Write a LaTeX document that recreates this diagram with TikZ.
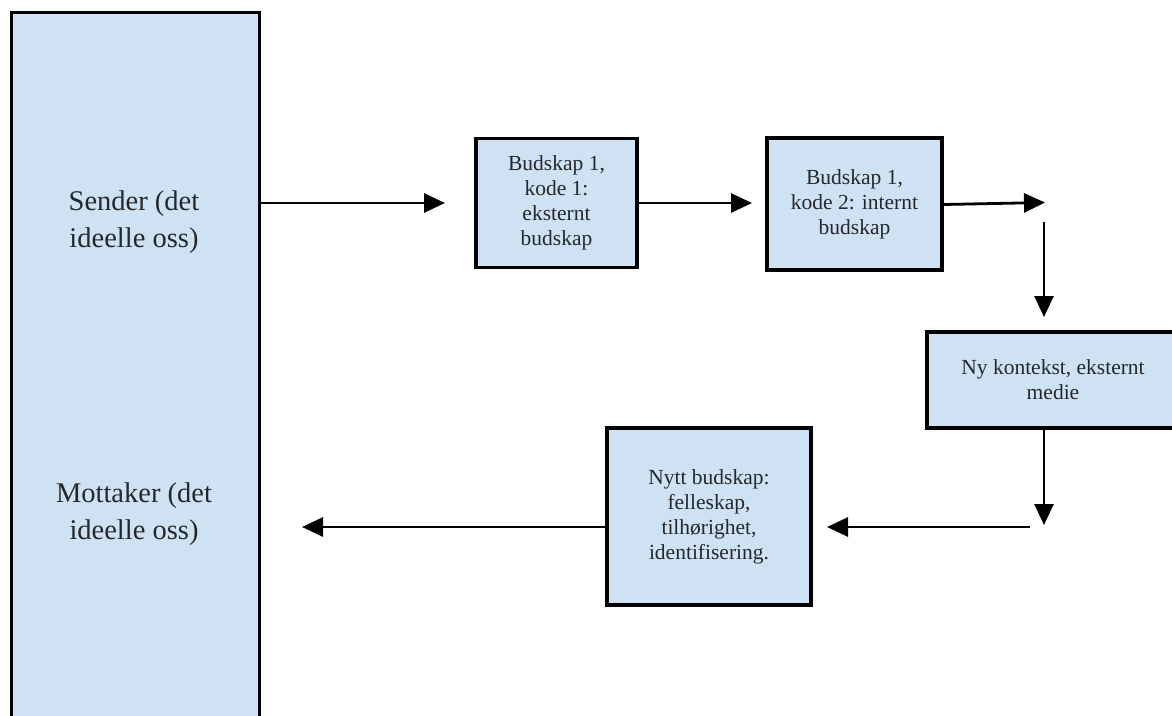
\documentclass[tikz,border=0pt]{standalone}
\usepackage{fontspec}
\setmainfont{Liberation Serif}
\usetikzlibrary{arrows.meta}
\definecolor{boxfill}{HTML}{CFE2F3}
\definecolor{txt}{HTML}{24282D}
\tikzset{
  panel/.style={draw=black, line width=3.2pt, fill=boxfill, inner sep=0pt},
  msgbox/.style={panel, text=txt, align=center, font=\fontsize{21.5}{25}\selectfont},
  bigtext/.style={text=txt, align=center, font=\fontsize{28.5}{36.5}\selectfont},
  arr/.style={draw=black, line width=2.8pt, -{Triangle[length=21pt,width=19pt]}},
  plain/.style={draw=black, line width=2.8pt}
}
\begin{document}
\begin{tikzpicture}[x=1pt,y=-1pt]
\useasboundingbox (0,0) rectangle (1172,715);
\clip (0,0) rectangle (1172,715);

% big sender/receiver panel
\node[panel, anchor=north west, minimum width=248pt, minimum height=760pt] (big) at (10,11) {};
\node[bigtext] (sender) at (134,222) {Sender (det\\ideelle oss)};
\node[bigtext] (receiver) at (134,514) {Mottaker (det\\ideelle oss)};

% message boxes
\node[msgbox, minimum width=161pt, minimum height=129pt] (b1) at (556.5,203) {Budskap 1,\\kode 1:\\eksternt\\budskap};
\node[msgbox, minimum width=175pt, minimum height=132pt] (b2) at (854.5,204) {Budskap 1,\\kode 2: internt\\budskap};
\node[msgbox, minimum width=252pt, minimum height=96pt] (b3) at (1053,380) {Ny kontekst, eksternt\\medie};
\node[msgbox, minimum width=204pt, minimum height=177pt] (b4) at (709,516.5) {Nytt budskap:\\felleskap,\\tilhørighet,\\identifisering.};

% free ends
\coordinate (t1) at (445,203);
\coordinate (t2) at (752,203);
\coordinate (s3) at (942,204.5);
\coordinate (t3) at (1045,202.5);
\coordinate (s4) at (1044,222);
\coordinate (t4) at (1044,317);
\coordinate (t5) at (1044,525);
\coordinate (s6) at (1030,527);
\coordinate (t6) at (827,527);
\coordinate (t7) at (302,527);

% connectors
\draw[arr] (big.east |- t1) -- (t1);
\draw[arr] (b1.east |- t2) -- (t2);
\draw[arr] (b2.east |- s3) -- (t3);
\draw[arr] (s4) -- (t4);
\draw[arr] (b3.south -| t5) -- (t5);
\draw[arr] (s6) -- (t6);
\draw[arr] (b4.west |- t7) -- (t7);
\end{tikzpicture}
\end{document}
